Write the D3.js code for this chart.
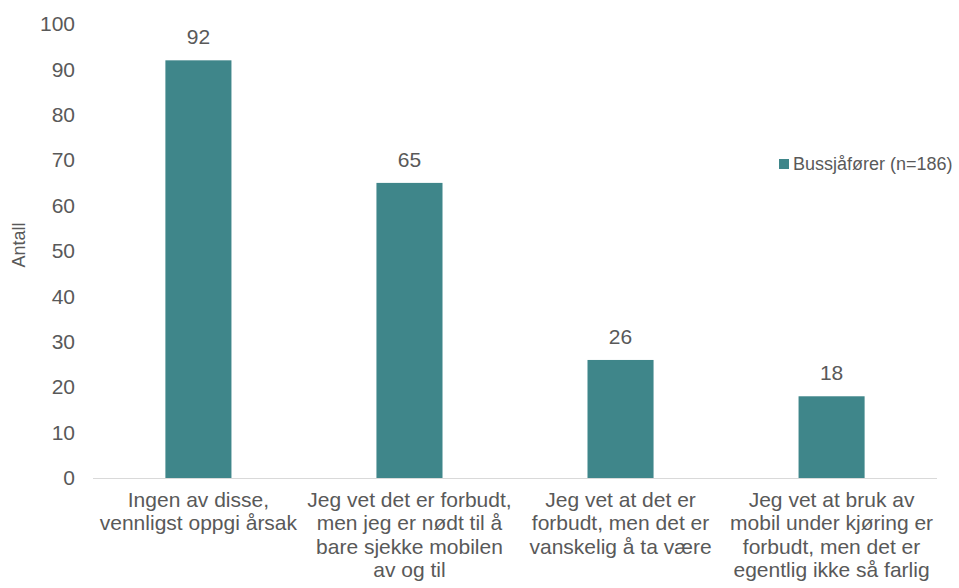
<!DOCTYPE html>
<html>
<head>
<meta charset="utf-8">
<script src="https://cdn.jsdelivr.net/npm/d3@7"></script>
<style>
body { margin: 0; background: #fff; }
text { font-family: "Liberation Sans", Arial, sans-serif; fill: #595959; }
</style>
</head>
<body>
<svg class="chart"></svg>
<script>
var categories = [
    ["Ingen av disse,", "vennligst oppgi årsak"],
    ["Jeg vet det er forbudt,", "men jeg er nødt til å", "bare sjekke mobilen", "av og til"],
    ["Jeg vet at det er", "forbudt, men det er", "vanskelig å ta være"],
    ["Jeg vet at bruk av", "mobil under kjøring er", "forbudt, men det er", "egentlig ikke så farlig"]
];
var values = [92, 65, 26, 18];
var yTicks = [0, 10, 20, 30, 40, 50, 60, 70, 80, 90, 100];
var seriesName = "Bussjåfører (n=186)";

var outerSize = {width: 959, height: 588};
var margin = {top: 24, right: 22, bottom: 110, left: 93};
var innerSize = {width: outerSize.width - margin.left - margin.right,
    height: outerSize.height - margin.top - margin.bottom};
var barColor = "#3f868a";
var fontSize = "21px";

var svg = d3.select(".chart")
        .attr("width", outerSize.width)
        .attr("height", outerSize.height);
var chart = svg.append("g")
        .attr("transform", "translate(" + margin.left + "," + margin.top + ")");

var xRange = d3.scaleBand()
        .domain(d3.range(values.length))
        .range([0, innerSize.width])
        .paddingInner(0.687)
        .paddingOuter(0.343);
var yRange = d3.scaleLinear()
        .domain([0, 100])
        .range([innerSize.height, 0]);

// y axis: labels only
var yAxis = chart.append("g")
        .call(d3.axisLeft(yRange).tickValues(yTicks).tickSize(0).tickPadding(18));
yAxis.select(".domain").remove();
yAxis.selectAll("text")
        .style("font-size", fontSize)
        .style("font-family", "'Liberation Sans', Arial, sans-serif")
        .attr("fill", "#595959");

chart.append("text")
        .attr("transform", "rotate(-90)")
        .attr("x", -(245 - margin.top))
        .attr("y", -margin.left + 25)
        .style("text-anchor", "middle")
        .style("font-size", "18px")
        .text("Antall");

// bars
chart.selectAll(".bar")
        .data(values)
        .enter().append("rect")
        .attr("class", "bar")
        .attr("x", function (d, i) { return xRange(i); })
        .attr("width", xRange.bandwidth())
        .attr("y", function (d) { return yRange(d); })
        .attr("height", function (d) { return innerSize.height - yRange(d); })
        .attr("fill", barColor);

chart.selectAll(".valueLabel")
        .data(values)
        .enter().append("text")
        .attr("class", "valueLabel")
        .attr("x", function (d, i) { return xRange(i) + xRange.bandwidth() / 2; })
        .attr("y", function (d) { return yRange(d) - 16; })
        .style("text-anchor", "middle")
        .style("font-size", fontSize)
        .text(function (d) { return d; });

// x axis line
chart.append("line")
        .attr("x1", 0)
        .attr("x2", innerSize.width)
        .attr("y1", innerSize.height + 0.5)
        .attr("y2", innerSize.height + 0.5)
        .attr("stroke", "#d9d9d9")
        .attr("stroke-width", 1);

var catLabel = chart.selectAll(".catLabel")
        .data(categories)
        .enter().append("text")
        .attr("class", "catLabel")
        .attr("x", function (d, i) { return xRange(i) + xRange.bandwidth() / 2; })
        .attr("y", innerSize.height + 29)
        .style("text-anchor", "middle")
        .style("font-size", fontSize);
catLabel.selectAll("tspan")
        .data(function (d) { return d; })
        .enter().append("tspan")
        .attr("x", function () { return d3.select(this.parentNode).attr("x"); })
        .attr("dy", function (d, i) { return i === 0 ? 0 : 23.3; })
        .text(function (d) { return d; });

// legend
var legend = svg.append("g")
        .attr("transform", "translate(779,159)");
legend.append("rect")
        .attr("width", 10)
        .attr("height", 10)
        .attr("fill", barColor);
legend.append("text")
        .attr("x", 14)
        .attr("y", 11)
        .style("font-size", "18px")
        .text(seriesName);
</script>
</body>
</html>
